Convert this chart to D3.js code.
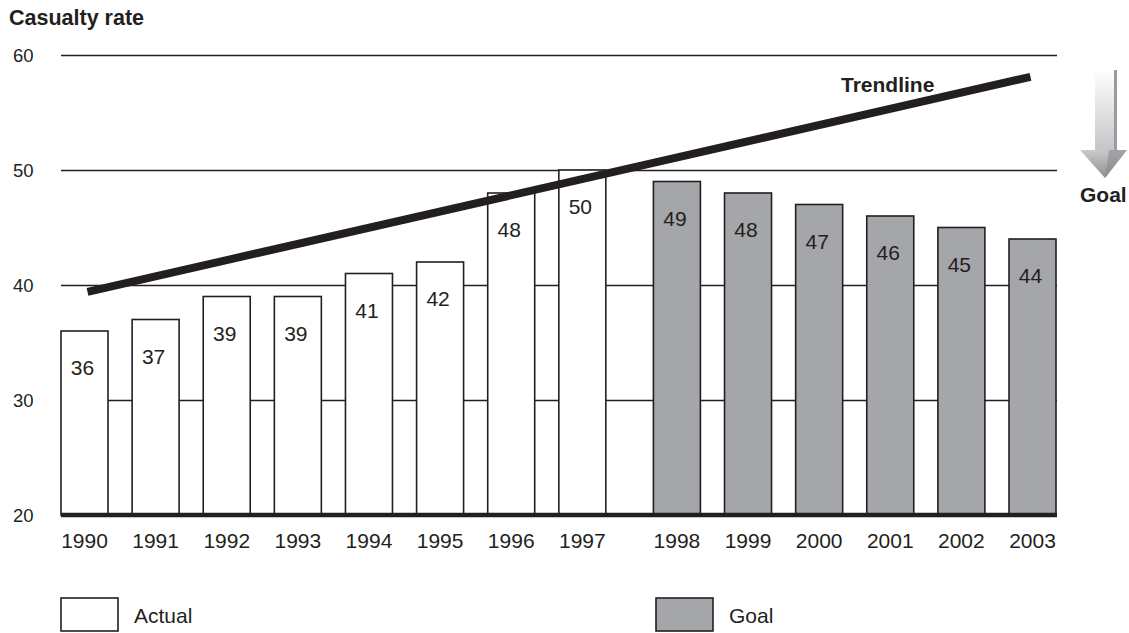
<!DOCTYPE html>
<html><head><meta charset="utf-8">
<script src="https://cdn.jsdelivr.net/npm/d3@7"></script>
<style>body{margin:0;background:#fff;} svg{display:block;font-family:"Liberation Sans",Arial,sans-serif;}</style>
</head><body>
<svg id="c" width="1129" height="633"></svg>
<script>
const years = ["1990","1991","1992","1993","1994","1995","1996","1997","1998","1999","2000","2001","2002","2003"];
const actualValues = [36,37,39,39,41,42,48,50];
const goalValues = [49,48,47,46,45,44];
const yTicks = [20,30,40,50,60];
const trendValues = [39.4, 58.1];

const svg = d3.select("#c");
const ink = "#231f20";
const goalFill = "#a5a6a9";

const y = d3.scaleLinear().domain([20,60]).range([515,55]);
// slot index: goal years shifted by a third of a slot
const slot = i => i < actualValues.length ? i : i + 0.33;
const x = d3.scaleLinear().domain([0, 13.33]).range([61, 1009]);
const bw = 47;

const data = years.map((yr,i)=>({
  year: yr,
  value: i < actualValues.length ? actualValues[i] : goalValues[i-actualValues.length],
  goal: i >= actualValues.length,
  pos: slot(i)
}));

// gridlines
const yAxis = d3.axisLeft(y).tickValues(yTicks).tickSize(-(1057-61)).tickPadding(0);
const ga = svg.append("g").attr("transform","translate(61,0)").call(yAxis);
ga.select(".domain").remove();
ga.selectAll(".tick line").attr("stroke",ink).attr("stroke-width",1.3);
ga.selectAll(".tick text").attr("x",-48).attr("text-anchor","start").attr("dy","0.35em")
  .attr("font-size",18.5).attr("fill",ink).attr("font-family","Liberation Sans, Arial, sans-serif");

// bars
svg.append("g").selectAll("rect").data(data).join("rect")
  .attr("x", d=>x(d.pos)).attr("width", bw)
  .attr("y", d=>y(d.value)).attr("height", d=>y(20)-y(d.value))
  .attr("fill", d=>d.goal?goalFill:"#fff")
  .attr("stroke", ink).attr("stroke-width",1.6);

// value labels
svg.append("g").selectAll("text").data(data).join("text")
  .attr("x", d=>x(d.pos)+bw/2 - 2).attr("y", d=>y(d.value)+44)
  .attr("text-anchor","middle").attr("font-size",21).attr("fill",ink)
  .text(d=>d.value);

// baseline
svg.append("line").attr("x1",61).attr("x2",1057).attr("y1",y(20)).attr("y2",y(20))
  .attr("stroke",ink).attr("stroke-width",4.5);

// year labels
svg.append("g").selectAll("text").data(data).join("text")
  .attr("x", d=>x(d.pos)+bw/2).attr("y", 548)
  .attr("text-anchor","middle").attr("font-size",21).attr("fill",ink)
  .text(d=>d.year);

// trendline
const tx0 = x(0)+bw/2+3, tx1 = x(slot(13))+bw/2-2;
svg.append("line").attr("x1",tx0).attr("y1",y(trendValues[0]))
  .attr("x2",tx1).attr("y2",y(trendValues[1]))
  .attr("stroke",ink).attr("stroke-width",8);
svg.append("text").attr("x",841).attr("y",92).attr("font-size",21).attr("font-weight","bold")
  .attr("fill",ink).text("Trendline");

// title
svg.append("text").attr("x",9).attr("y",25).attr("font-size",21.5).attr("font-weight","bold")
  .attr("fill",ink).text("Casualty rate");

// goal arrow
const defs = svg.append("defs");
const g1 = defs.append("linearGradient").attr("id","shaft").attr("x1","0").attr("y1","0").attr("x2","0").attr("y2","1");
g1.append("stop").attr("offset","0").attr("stop-color","#ffffff");
g1.append("stop").attr("offset","1").attr("stop-color","#c4c5c7");
const g2 = defs.append("linearGradient").attr("id","head").attr("x1","0").attr("y1","0").attr("x2","0").attr("y2","1");
g2.append("stop").attr("offset","0").attr("stop-color","#c9cacc");
g2.append("stop").attr("offset","1").attr("stop-color","#8e8f92");
svg.append("rect").attr("x",1095).attr("y",70).attr("width",22).attr("height",81).attr("fill","url(#shaft)");
svg.append("rect").attr("x",1114).attr("y",70).attr("width",3).attr("height",81).attr("fill","#9a9b9e");
svg.append("path").attr("d","M1080,150 L1127,150 L1105,178 Z").attr("fill","url(#head)");
svg.append("path").attr("d","M1127,150 L1105,178 L1109,150 Z").attr("fill","#8a8b8e").attr("opacity",0.6);
svg.append("text").attr("x",1080).attr("y",202).attr("font-size",21).attr("font-weight","bold")
  .attr("fill",ink).text("Goal");

// legend
const legend = [{label:"Actual", fill:"#fff", x:61},{label:"Goal", fill:goalFill, x:656}];
const lg = svg.append("g").selectAll("g").data(legend).join("g");
lg.append("rect").attr("x",d=>d.x).attr("y",598).attr("width",57).attr("height",33)
  .attr("fill",d=>d.fill).attr("stroke",ink).attr("stroke-width",1.6);
lg.append("text").attr("x",d=>d.x+73).attr("y",623).attr("font-size",21).attr("fill",ink).text(d=>d.label);
</script>
</body></html>
